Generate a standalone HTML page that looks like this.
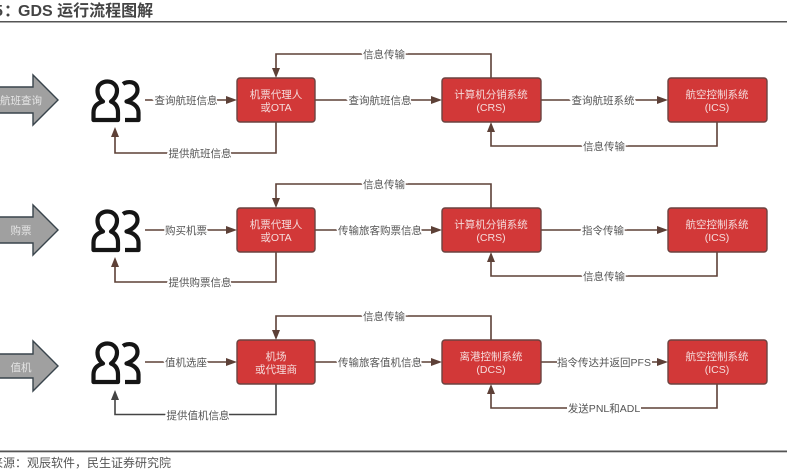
<!DOCTYPE html>
<html><head><meta charset="utf-8"><style>
html,body{margin:0;padding:0;background:#fff;width:787px;height:472px;overflow:hidden}
svg{display:block;filter:blur(.35px)}
text{font-family:"Liberation Sans","Noto Sans CJK SC",sans-serif}
.l{fill:none;stroke:#5d4037;stroke-width:1.6}
.h{fill:#5d4037}
.t{font-size:10.5px;fill:#555;text-anchor:middle;paint-order:stroke;stroke:#fff;stroke-width:3px}
.t2{font-size:10.5px;fill:#555;text-anchor:middle}
.b{fill:#d23838;stroke:#6b4340;stroke-width:1.4}
.w{font-size:10.5px;fill:#f5dcdc;text-anchor:middle}
.g{fill:#a0a0a0;stroke:#39444c;stroke-width:1.4}
.p{fill:none;stroke:#151515;stroke-width:4.2;stroke-linejoin:round}
.a{font-size:10.5px;fill:#e4e4e4;text-anchor:middle}
</style></head><body>
<svg width="787" height="472" viewBox="0 0 787 472" xmlns="http://www.w3.org/2000/svg">
<defs>
<g id="person">
<path class="p" d="M103 22C99 19 97.500 15 97.500 11C97.500 5.500 102 2 107.500 2C113 2 117 6 117 11C117 15 115 19 111 22C116 24 118 28 118 33V40.500H93.500V33C93.500 28 96 24 103 22Z"/>
<path class="p" d="M123 4.500C127 1.500 137.500 1 137.500 10.500C137.500 16 132 20 126.500 22C133 23 138.500 27 138.500 33V40.500H125"/>
</g>
</defs>

<text x="-6" y="16" font-size="16" font-weight="700" fill="#444">5</text>
<text x="4" y="16" font-size="16" font-weight="700" fill="#444">：</text>
<text x="18" y="16" font-size="16" font-weight="700" fill="#444">GDS 运行流程图解</text>
<rect x="0" y="21" width="787" height="1.500" fill="#555"/>
<rect x="0" y="450.500" width="787" height="1.800" fill="#555"/>
<text x="-9" y="467" font-size="12" fill="#555">来源：观辰软件，民生证券研究院</text>

<!-- Row 1 -->
<path class="g" d="M-2 87H33V75L58 100L33 125V113H-2Z"/>
<text class="a" x="21" y="104">航班查询</text>
<use href="#person" x="0" y="79.500"/>
<path class="l" d="M145 100H230"/><path class="h" d="M226 96L237 100L226 104Z"/>
<text class="t" x="186" y="104">查询航班信息</text>
<path class="l" d="M276 122V153H115V135"/><path class="h" d="M111 137L115 127L119 137Z"/>
<text class="t" x="200" y="157">提供航班信息</text>
<path class="l" d="M315 100H434"/><path class="h" d="M431 96L442 100L431 104Z"/>
<text class="t" x="380" y="104">查询航班信息</text>
<path class="l" d="M491 78V54H276V70"/><path class="h" d="M272 68L276 78L280 68Z"/>
<text class="t" x="384" y="58">信息传输</text>
<path class="l" d="M541 100H660"/><path class="h" d="M657 96L668 100L657 104Z"/>
<text class="t" x="603" y="104">查询航班系统</text>
<path class="l" d="M717 122V146H491V130"/><path class="h" d="M487 132L491 122L495 132Z"/>
<text class="t" x="604" y="150">信息传输</text>
<rect class="b" x="237" y="78" width="78" height="44" rx="3"/>
<text class="w" x="276" y="98">机票代理人</text><text class="w" x="276" y="111">或OTA</text>
<rect class="b" x="442" y="78" width="99" height="44" rx="3"/>
<text class="w" x="491" y="98">计算机分销系统</text><text class="w" x="491" y="111">(CRS)</text>
<rect class="b" x="668" y="78" width="99" height="44" rx="3"/>
<text class="w" x="717" y="98">航空控制系统</text><text class="w" x="717" y="111">(ICS)</text>

<!-- Row 2 -->
<path class="g" d="M-2 217H33V205L58 230L33 255V243H-2Z"/>
<text class="a" x="21" y="234">购票</text>
<use href="#person" x="0" y="209.500"/>
<path class="l" d="M145 230H230"/><path class="h" d="M226 226L237 230L226 234Z"/>
<text class="t" x="186" y="234">购买机票</text>
<path class="l" d="M276 252V282H115V265"/><path class="h" d="M111 267L115 257L119 267Z"/>
<text class="t" x="200" y="286">提供购票信息</text>
<path class="l" d="M315 230H434"/><path class="h" d="M431 226L442 230L431 234Z"/>
<text class="t" x="380" y="234">传输旅客购票信息</text>
<path class="l" d="M491 208V184H276V200"/><path class="h" d="M272 198L276 208L280 198Z"/>
<text class="t" x="384" y="188">信息传输</text>
<path class="l" d="M541 230H660"/><path class="h" d="M657 226L668 230L657 234Z"/>
<text class="t" x="603" y="234">指令传输</text>
<path class="l" d="M717 252V276H491V260"/><path class="h" d="M487 262L491 252L495 262Z"/>
<text class="t" x="604" y="280">信息传输</text>
<rect class="b" x="237" y="208" width="78" height="44" rx="3"/>
<text class="w" x="276" y="228">机票代理人</text><text class="w" x="276" y="241">或OTA</text>
<rect class="b" x="442" y="208" width="99" height="44" rx="3"/>
<text class="w" x="491" y="228">计算机分销系统</text><text class="w" x="491" y="241">(CRS)</text>
<rect class="b" x="668" y="208" width="99" height="44" rx="3"/>
<text class="w" x="717" y="228">航空控制系统</text><text class="w" x="717" y="241">(ICS)</text>

<!-- Row 3 -->
<path class="g" d="M-2 354H33V341L58 366L33 391V378H-2Z"/>
<text class="a" x="21" y="371">值机</text>
<use href="#person" x="0" y="341.500"/>
<path class="l" d="M145 362H230"/><path class="h" d="M226 358L237 362L226 366Z"/>
<text class="t" x="186" y="366">值机选座</text>
<path class="l" style="stroke:#444" d="M276 384V414.500H115V398"/><path fill="#444" d="M111 400L115 390L119 400Z"/>
<text class="t" x="198" y="419">提供值机信息</text>
<path class="l" d="M315 362H434"/><path class="h" d="M431 358L442 362L431 366Z"/>
<text class="t" x="380" y="366">传输旅客值机信息</text>
<path class="l" d="M491 340V316H276V332"/><path class="h" d="M272 330L276 340L280 330Z"/>
<text class="t" x="384" y="320">信息传输</text>
<path class="l" d="M541 362H660"/><path class="h" d="M657 358L668 362L657 366Z"/>
<rect x="557" y="355" width="95" height="14" fill="#fff"/>
<text class="t2" x="604" y="366">指令传达并返回PFS</text>
<path class="l" d="M717 384V408H491V392"/><path class="h" d="M487 394L491 384L495 394Z"/>
<rect x="567" y="401" width="74" height="14" fill="#fff"/>
<text class="t2" x="604" y="412">发送PNL和ADL</text>
<rect class="b" x="237" y="340" width="78" height="44" rx="3"/>
<text class="w" x="276" y="360">机场</text><text class="w" x="276" y="373">或代理商</text>
<rect class="b" x="442" y="340" width="99" height="44" rx="3"/>
<text class="w" x="491" y="360">离港控制系统</text><text class="w" x="491" y="373">(DCS)</text>
<rect class="b" x="668" y="340" width="99" height="44" rx="3"/>
<text class="w" x="717" y="360">航空控制系统</text><text class="w" x="717" y="373">(ICS)</text>
</svg>
</body></html>
